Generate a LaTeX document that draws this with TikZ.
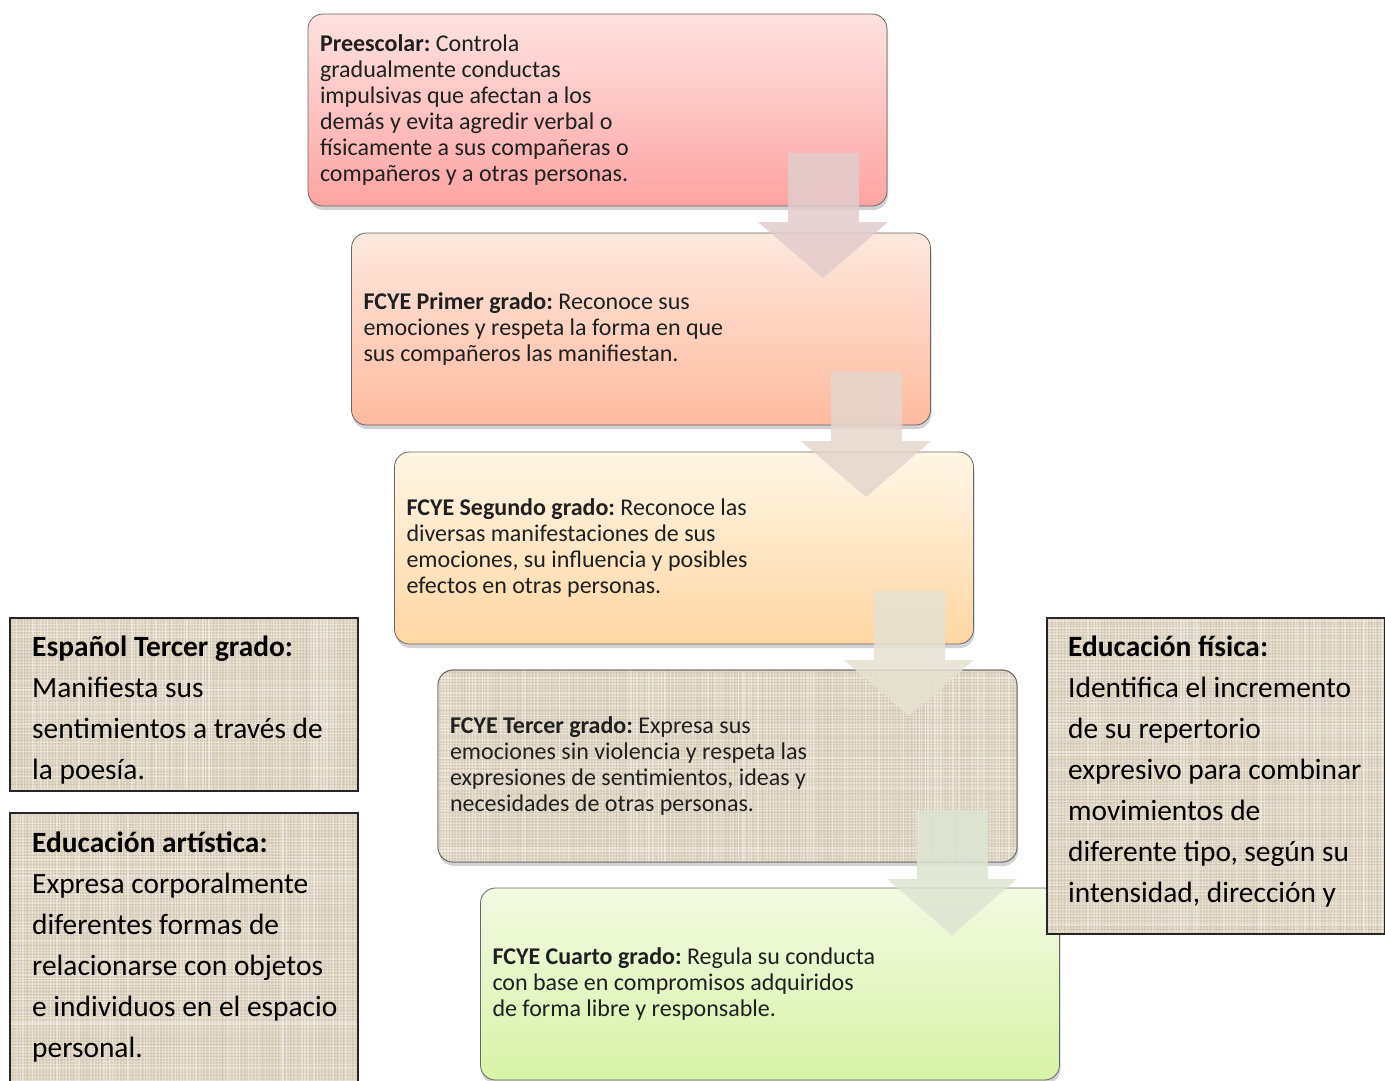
\documentclass[tikz,border=0pt]{standalone}
\usepackage{fontspec}
\setmainfont{Carlito}
\usetikzlibrary{shadows}
\usetikzlibrary{positioning}
\usetikzlibrary{calc}

\definecolor{pinktop}{RGB}{253,226,224}
\definecolor{pinkbot}{RGB}{253,164,163}
\definecolor{peachtop}{RGB}{254,232,222}
\definecolor{peachbot}{RGB}{254,186,158}
\definecolor{creamtop}{RGB}{255,246,230}
\definecolor{creambot}{RGB}{255,214,162}
\definecolor{greentop}{RGB}{242,249,226}
\definecolor{greenbot}{RGB}{216,243,166}
\definecolor{burlap}{RGB}{219,209,190}
\definecolor{burlapdark}{RGB}{165,150,122}
\definecolor{txtgray}{RGB}{32,32,32}
\definecolor{arrowa}{RGB}{226,204,204}
\definecolor{arrowb}{RGB}{228,214,204}
\definecolor{arrowc}{RGB}{230,226,210}
\definecolor{arrowd}{RGB}{222,228,210}

% the font's own word spaces
\newcommand{\natsp}{\frenchspacing\spaceskip=0pt\xspaceskip=0pt\relax}

\tikzset{
  gradetext/.style={rounded corners=15pt,
    minimum width=579pt, minimum height=192pt, text width=555pt,
    inner xsep=12pt, align=left, text=txtgray,
    font=\fontsize{24}{26}\selectfont, execute at begin node=\natsp},
  gradebox/.style={gradetext, draw=black!60, line width=0.8pt,
    drop shadow={shadow xshift=1pt, shadow yshift=-4pt, opacity=0.35}},
  sidebox/.style={draw=black!85, line width=1.6pt},
  sidetext/.style={anchor=north west, align=left, inner sep=0pt,
    font=\fontsize{29.4}{41}\selectfont, execute at begin node=\natsp},
  blockarrow/.style={opacity=0.85}
}

% light and dark threads over a textured box
\newcommand{\weave}[4]{%
  \begin{scope}
    \clip[rounded corners=#1] #2 rectangle #3;
    \fill[burlap] #2 rectangle #3;
    \foreach \k in {0,...,#4}{
      \pgfmathsetmacro{\op}{0.10+0.35*rnd}
      \pgfmathsetmacro{\oq}{0.03+0.12*rnd}
      \pgfmathsetmacro{\dx}{1.2*rnd}
      \draw[white, opacity=\op, line width=1.4pt] ($#2+(\k*3.1+\dx,0)$) -- ++(0,480);
      \draw[burlapdark, opacity=\oq, line width=0.7pt] ($#2+(\k*3.1+1.7,0)$) -- ++(0,480);
      \draw[white, opacity=\oq*2.5, line width=1.4pt] ($#2+(0,\k*3.1+\dx)$) -- ++(700,0);
      \draw[burlapdark, opacity=\op*0.35, line width=0.7pt] ($#2+(0,\k*3.1+1.7)$) -- ++(700,0);
    }
  \end{scope}}

\begin{document}
\begin{tikzpicture}[x=1pt,y=-1pt]
  \pgfmathsetseed{7}
  \useasboundingbox[fill=white] (0,0) rectangle (1385,1080);

  % the five grades, stepping down to the right
  \node[gradebox, top color=pinktop, bottom color=pinkbot] (pre) at (597.5,110)
    {\textbf{Preescolar:} Controla\\ gradualmente conductas\\ impulsivas que afectan a los\\
     demás y evita agredir verbal o\\ físicamente a sus compañeras o\\ compañeros y a otras personas.};
  \node[gradebox, top color=peachtop, bottom color=peachbot] (primero) at (641,329)
    {\textbf{FCYE Primer grado:} Reconoce sus\\ emociones y respeta la forma en que\\ sus compañeros las manifiestan.};
  \node[gradebox, top color=creamtop, bottom color=creambot] (segundo) at (684,548)
    {\textbf{FCYE Segundo grado:} Reconoce las\\ diversas manifestaciones de sus\\
     emociones, su influencia y posibles\\ efectos en otras personas.};
  \node[gradebox, fill=burlap] (tercero) at (727.5,766) {};
  \weave{15pt}{(438,671)}{(1017,862)}{190}
  \node[gradetext, draw=black!60, line width=0.8pt] (tercerotxt) at (tercero.center)
    {\textbf{FCYE Tercer grado:} Expresa sus\\ emociones sin violencia y respeta las\\
     expresiones de sentimientos, ideas y\\ necesidades de otras personas.};
  \node[gradebox, top color=greentop, bottom color=greenbot] (cuarto) at (770,984)
    {\textbf{FCYE Cuarto grado:} Regula su conducta\\ con base en compromisos adquiridos\\ de forma libre y responsable.};

  % block arrows between the grades
  \foreach \c [count=\i from 0] in {arrowa,arrowb,arrowc,arrowd}{
    \fill[\c, blockarrow] (788+43*\i,153+219*\i) -- ++(71,0) -- ++(0,69) -- ++(29,0)
      -- ++(-65,56) -- ++(-65,-56) -- ++(30,0) -- cycle;
  }

  % other subjects
  \weave{0pt}{(10,618)}{(358,791)}{160}
  \draw[sidebox] (10,618) rectangle (358,791);
  \node[sidetext] (espanol) at (32,636)
    {\textbf{Español Tercer grado:}\\ Manifiesta sus\\ sentimientos a través de\\ la poesía.};

  \weave{0pt}{(10,813)}{(358,1082)}{160}
  \draw[sidebox] (10,813) rectangle (358,1082);
  \node[sidetext] (artistica) at (32,832)
    {\textbf{Educación artística:}\\ Expresa corporalmente\\ diferentes formas de\\
     relacionarse con objetos\\ e individuos en el espacio\\ personal.};

  \weave{0pt}{(1047,618)}{(1385,934)}{160}
  \draw[sidebox] (1047,618) rectangle (1385,934);
  \node[sidetext] (fisica) at (1068,636)
    {\textbf{Educación física:}\\ Identifica el incremento\\ de su repertorio\\ expresivo para combinar\\
     movimientos de\\ diferente tipo, según su\\ intensidad, dirección y};
\end{tikzpicture}
\end{document}
